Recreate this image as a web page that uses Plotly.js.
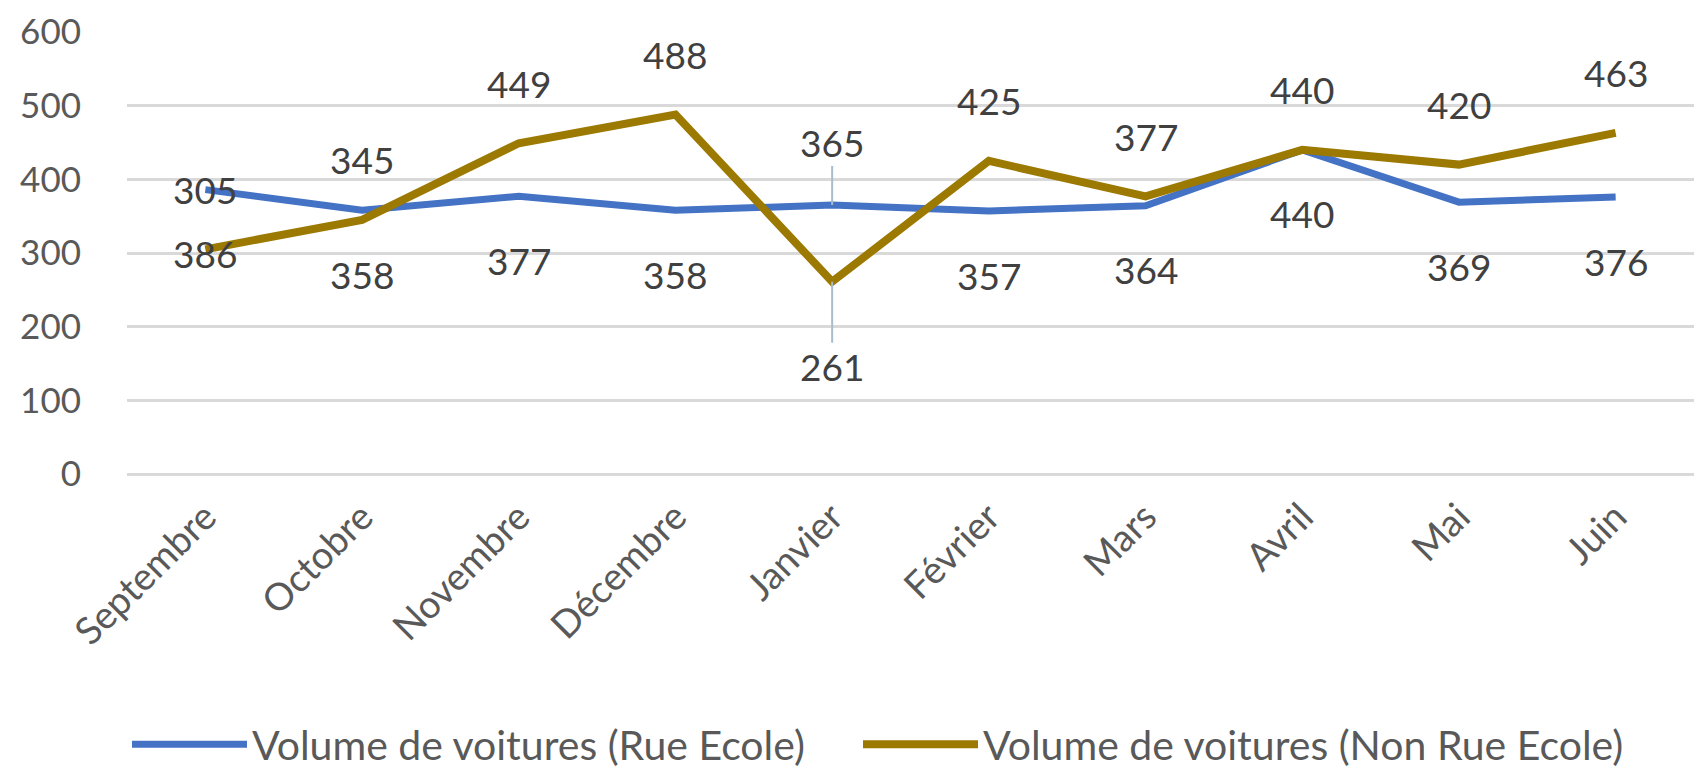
<!DOCTYPE html>
<html>
<head>
<meta charset="utf-8">
<script src="https://cdn.plot.ly/plotly-3.0.1.min.js"></script>
<style>
  html, body { margin: 0; padding: 0; background: #ffffff; }
  #chart { width: 1694px; height: 778px; }
</style>
</head>
<body>
<div id="chart"></div>
<script>
const months = ['Septembre', 'Octobre', 'Novembre', 'Décembre', 'Janvier', 'Février', 'Mars', 'Avril', 'Mai', 'Juin'];
const rueEcole = [386, 358, 377, 358, 365, 357, 364, 440, 369, 376];
const nonRueEcole = [305, 345, 449, 488, 261, 425, 377, 440, 420, 463];
const seriesNames = ['Volume de voitures (Rue Ecole)', 'Volume de voitures (Non Rue Ecole)'];
const yTicks = [0, 100, 200, 300, 400, 500, 600];

const blue = '#4472c4';
const gold = '#9c7900';
const textColor = '#595959';
const fontFamily = 'Lato, "Open Sans", sans-serif';

const traces = [
  { x: months, y: rueEcole, name: seriesNames[0], type: 'scatter', mode: 'lines',
    legend: 'legend', line: { color: blue, width: 7 }, hoverinfo: 'x+y' },
  { x: months, y: nonRueEcole, name: seriesNames[1], type: 'scatter', mode: 'lines',
    legend: 'legend2', line: { color: gold, width: 8 }, hoverinfo: 'x+y' }
];

// data labels: Non Rue Ecole above, Rue Ecole below, swapped (with leader lines) at Janvier
const swapIdx = months.indexOf('Janvier');
const annotations = [];
months.forEach((m, i) => {
  const swapped = i === swapIdx;
  annotations.push({
    x: m, y: rueEcole[i], xref: 'x', yref: 'y', text: String(rueEcole[i]),
    showarrow: true, arrowhead: 0, arrowwidth: 2,
    arrowcolor: swapped ? '#a9bccb' : 'rgba(0,0,0,0)',
    ax: 0, ay: swapped ? -63 : 64,
    font: { family: fontFamily, size: 37, color: '#404040' }
  });
  annotations.push({
    x: m, y: nonRueEcole[i], xref: 'x', yref: 'y', text: String(nonRueEcole[i]),
    showarrow: true, arrowhead: 0, arrowwidth: 2,
    arrowcolor: swapped ? '#a9bccb' : 'rgba(0,0,0,0)',
    ax: 0, ay: swapped ? 85 : -60,
    font: { family: fontFamily, size: 37, color: '#404040' }
  });
});

const legendBase = {
  orientation: 'h', xanchor: 'left', y: -0.612, yanchor: 'middle',
  font: { family: fontFamily, size: 41, color: textColor },
  itemwidth: 115, bgcolor: 'rgba(0,0,0,0)'
};

const layout = {
  width: 1694, height: 778,
  paper_bgcolor: '#ffffff', plot_bgcolor: '#ffffff',
  margin: { l: 127, r: 0, t: 32, b: 303 },
  font: { family: fontFamily, color: textColor },
  showlegend: true,
  legend: Object.assign({}, legendBase, { x: 0 }),
  legend2: Object.assign({}, legendBase, { x: 0.4665 }),
  xaxis: {
    type: 'category', range: [-0.5, months.length - 0.5],
    showgrid: false, zeroline: false, showline: false, ticks: '',
    tickangle: -45, ticklabelstandoff: 12,
    tickfont: { family: fontFamily, size: 38, color: textColor },
    fixedrange: true
  },
  yaxis: {
    range: [0, 600], tickvals: yTicks, ticktext: yTicks.map(String),
    showgrid: true, gridcolor: '#d9d9d9', gridwidth: 3,
    zeroline: true, zerolinecolor: '#d9d9d9', zerolinewidth: 3,
    showline: false, ticks: '', ticklabelstandoff: 45,
    tickfont: { family: fontFamily, size: 35, color: textColor },
    fixedrange: true
  },
  annotations: annotations
};

Plotly.newPlot('chart', traces, layout, { displayModeBar: false, staticPlot: true });
</script>
</body>
</html>
